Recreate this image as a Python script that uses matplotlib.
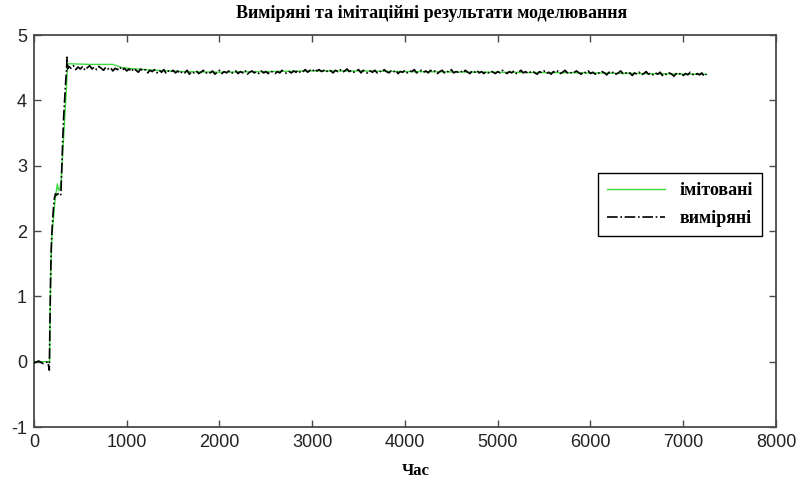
"""Виміряні та імітаційні результати моделювання."""

import numpy as np
import matplotlib
matplotlib.use("Agg")
import matplotlib.pyplot as plt

plt.rcParams["axes.unicode_minus"] = False

# simulated (green) response
sim_t = [0, 168, 175, 185, 195, 210, 225, 240, 252, 265, 280, 292, 310, 330, 350, 362,
         600, 850, 950, 1100, 1300, 1600, 2000, 3000, 3500, 4000, 5000, 6000, 6500, 7250]
sim_v = [0, 0, 0.9, 1.6, 1.95, 2.2, 2.45, 2.6, 2.72, 2.62, 2.65, 2.75, 3.2, 3.7, 4.2, 4.56,
         4.55, 4.55, 4.50, 4.48, 4.46, 4.44, 4.43, 4.45, 4.45, 4.44, 4.43, 4.42, 4.41, 4.40]

# measured (black) - start-up part
meas_t_start = [0, 50, 100, 150, 165, 172, 178, 185, 192, 200, 210, 220, 232, 245, 260,
                275, 290, 300, 310, 320, 330, 340, 350, 356, 362]
meas_v_start = [-0.02, 0.01, -0.03, 0.0, -0.13, 0.6, 1.2, 1.7, 1.95, 2.15, 2.35, 2.5, 2.57,
                2.55, 2.57, 2.54, 2.56, 3.0, 3.4, 3.75, 4.0, 4.25, 4.45, 4.66, 4.48]

# measured - steady part, every 25 s starting at 375
meas_v_steady = [
    4.52, 4.49, 4.53, 4.47, 4.51, 4.48, 4.52, 4.46, 4.50, 4.53, 4.48, 4.51,
    4.47, 4.52, 4.49, 4.46, 4.51, 4.48, 4.50, 4.45, 4.49, 4.47, 4.51, 4.46,
    4.49, 4.45, 4.48, 4.44, 4.49, 4.46, 4.43, 4.48, 4.45, 4.47, 4.42, 4.46,
    4.44, 4.47, 4.42, 4.46, 4.43, 4.47, 4.41, 4.45, 4.43, 4.46, 4.42, 4.45,
    4.41, 4.44, 4.42, 4.46, 4.40, 4.44, 4.42, 4.45, 4.41, 4.43, 4.46, 4.41,
    4.44, 4.42, 4.45, 4.40, 4.43, 4.46, 4.41, 4.44, 4.42, 4.45, 4.41, 4.43,
    4.45, 4.41, 4.44, 4.42, 4.46, 4.40, 4.43, 4.45, 4.42, 4.44, 4.41, 4.45,
    4.42, 4.44, 4.41, 4.45, 4.43, 4.41, 4.44, 4.42, 4.46, 4.43, 4.41, 4.44,
    4.42, 4.45, 4.43, 4.46, 4.42, 4.44, 4.47, 4.43, 4.46, 4.44, 4.48, 4.45,
    4.47, 4.44, 4.46, 4.43, 4.47, 4.45, 4.42, 4.46, 4.44, 4.47, 4.43, 4.45,
    4.48, 4.44, 4.46, 4.43, 4.45, 4.47, 4.42, 4.46, 4.44, 4.41, 4.45, 4.43,
    4.46, 4.42, 4.45, 4.43, 4.47, 4.44, 4.42, 4.45, 4.43, 4.46, 4.41, 4.44,
    4.43, 4.46, 4.42, 4.45, 4.44, 4.47, 4.42, 4.44, 4.46, 4.43, 4.45, 4.42,
    4.46, 4.43, 4.45, 4.41, 4.44, 4.46, 4.42, 4.45, 4.43, 4.47, 4.42, 4.44,
    4.43, 4.45, 4.42, 4.46, 4.43, 4.41, 4.45, 4.43, 4.46, 4.42, 4.44, 4.41,
    4.44, 4.42, 4.45, 4.43, 4.41, 4.44, 4.42, 4.46, 4.43, 4.41, 4.44, 4.42,
    4.45, 4.41, 4.43, 4.46, 4.42, 4.44, 4.41, 4.43, 4.45, 4.42, 4.40, 4.44,
    4.42, 4.45, 4.41, 4.43, 4.40, 4.44, 4.42, 4.45, 4.41, 4.43, 4.46, 4.42,
    4.44, 4.41, 4.43, 4.45, 4.42, 4.40, 4.44, 4.42, 4.45, 4.41, 4.43, 4.40,
    4.43, 4.41, 4.44, 4.42, 4.39, 4.43, 4.41, 4.44, 4.40, 4.42, 4.45, 4.41,
    4.43, 4.40, 4.42, 4.38, 4.42, 4.40, 4.43, 4.39, 4.41, 4.44, 4.40, 4.42,
    4.39, 4.42, 4.40, 4.43, 4.38, 4.41, 4.39, 4.42, 4.40, 4.37, 4.41, 4.39,
    4.42, 4.38, 4.41, 4.39, 4.43, 4.40, 4.38, 4.41, 4.39, 4.42, 4.37, 4.40,
]
meas_t_steady = 375 + 25 * np.arange(len(meas_v_steady))

meas_t = np.concatenate([meas_t_start, meas_t_steady])
meas_v = np.concatenate([meas_v_start, meas_v_steady])

x_ticks = [0, 1000, 2000, 3000, 4000, 5000, 6000, 7000, 8000]
y_ticks = [-1, 0, 1, 2, 3, 4, 5]

title = "Виміряні та імітаційні результати моделювання"
xlabel = "Час"
labels = ["імітовані", "виміряні"]

SERIF = ["Liberation Serif", "DejaVu Serif"]
NARROW = ["Liberation Sans Narrow", "Liberation Sans", "DejaVu Sans"]
FRAME = "#4a4a4a"

fig = plt.figure(figsize=(8.04, 4.79), dpi=100)
ax = fig.add_axes([34 / 804, 1 - 427 / 479, 742 / 804, 392 / 479])

ax.plot(sim_t, sim_v, color="#3fd83f", lw=1.0, label=labels[0], zorder=2)
ax.plot(meas_t, meas_v, color="black", lw=1.2, ls="-.", label=labels[1], zorder=3)

ax.set_xlim(0, 8000)
ax.set_ylim(-1, 5)
ax.set_xticks(x_ticks)
ax.set_yticks(y_ticks)
ax.tick_params(direction="in", length=5, width=1, color=FRAME,
               top=True, right=True, labelsize=13, pad=5, labelcolor="#222222")
for lab in ax.get_xticklabels() + ax.get_yticklabels():
    lab.set_family(NARROW)
for sp in ax.spines.values():
    sp.set_color(FRAME)
    sp.set_linewidth(1.3)

fig.text(432 / 804, 1 - 14 / 479, title, ha="center", va="center",
         family=SERIF, fontweight="bold", fontsize=13)
fig.text(416 / 804, 1 - 471 / 479, xlabel, ha="center", va="center",
         family=SERIF, fontweight="bold", fontsize=12)

leg = ax.legend(loc="upper left", bbox_to_anchor=(598 / 804, 1 - 173 / 479),
                bbox_transform=fig.transFigure, borderaxespad=0, fancybox=False,
                framealpha=1, edgecolor="black", handlelength=3.2, handletextpad=0.8,
                borderpad=0.5, labelspacing=0.6,
                prop={"family": SERIF, "weight": "bold", "size": 13})
leg.get_frame().set_linewidth(1.0)

fig.savefig("out.png", dpi=100)
plt.close()
